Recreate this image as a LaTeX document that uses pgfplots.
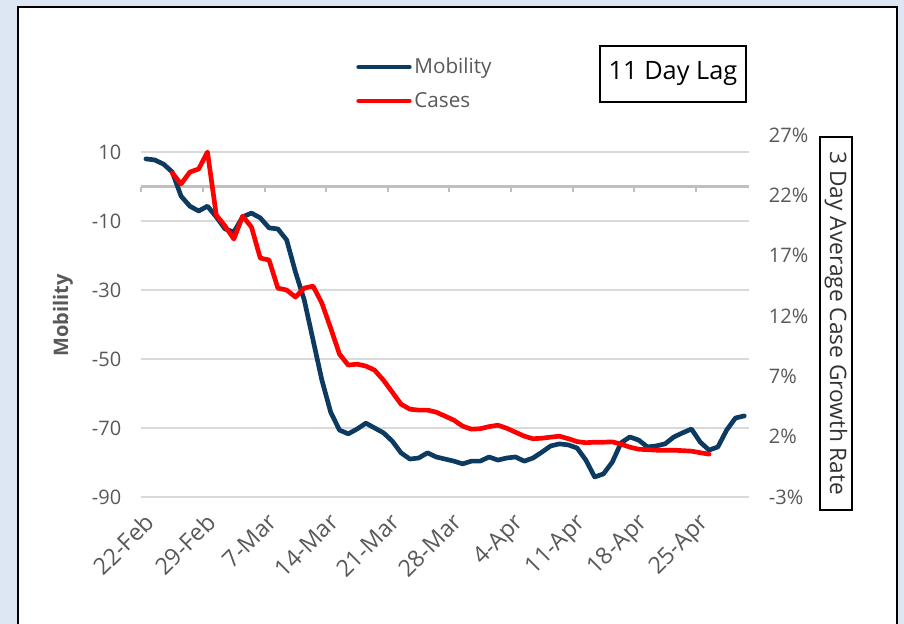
\documentclass[border=0pt]{standalone}
\usepackage{pgfplots}
\usepackage{pgfplotstable}
\pgfplotsset{compat=1.18}
\usepackage{fontspec}
\setmainfont{Open Sans}
\definecolor{mobblue}{RGB}{12,58,96}
\definecolor{casered}{RGB}{255,0,0}
\definecolor{txtgray}{RGB}{89,89,89}
\definecolor{gridgray}{RGB}{217,217,217}
\definecolor{zerogray}{RGB}{191,191,191}
\definecolor{bgblue}{RGB}{221,231,243}

\pgfplotstableread{
day mob
0 8.0
1 7.7
2 6.5
3 4.2
4 -2.8
5 -5.7
6 -7.1
7 -5.7
8 -8.8
9 -12.3
10 -13.2
11 -8.8
12 -7.7
13 -9.1
14 -12.0
15 -12.3
16 -15.5
17 -24.8
18 -32.9
19 -44.5
20 -56.1
21 -65.4
22 -70.6
23 -71.7
24 -70.3
25 -68.6
26 -70.0
27 -71.4
28 -73.8
29 -77.2
30 -79.0
31 -78.7
32 -77.2
33 -78.4
34 -79.0
35 -79.6
36 -80.4
37 -79.6
38 -79.6
39 -78.4
40 -79.3
41 -78.7
42 -78.4
43 -79.6
44 -78.7
45 -77.0
46 -75.2
47 -74.6
48 -74.9
49 -75.8
50 -79.3
51 -84.2
52 -83.3
53 -79.9
54 -74.3
55 -72.6
56 -73.5
57 -75.5
58 -75.2
59 -74.6
60 -72.6
61 -71.4
62 -70.3
63 -74.1
64 -76.4
65 -75.5
66 -70.6
67 -67.1
68 -66.5
}\mobtable

\pgfplotstableread{
day cases
3 23.85
4 22.94
5 23.93
6 24.18
7 25.59
8 20.37
9 19.45
10 18.38
11 20.28
12 19.37
13 16.80
14 16.64
15 14.31
16 14.15
17 13.57
18 14.31
19 14.48
20 13.07
21 11.00
22 8.84
23 7.93
24 8.01
25 7.85
26 7.51
27 6.68
28 5.69
29 4.69
30 4.28
31 4.20
32 4.20
33 4.03
34 3.70
35 3.37
36 2.87
37 2.62
38 2.66
39 2.83
40 2.95
41 2.70
42 2.37
43 2.04
44 1.83
45 1.87
46 1.96
47 2.04
48 1.83
49 1.59
50 1.50
51 1.54
52 1.54
53 1.57
54 1.38
55 1.13
56 0.96
57 0.92
58 0.88
59 0.88
60 0.88
61 0.84
62 0.80
63 0.67
64 0.55
}\casetable

\begin{document}
\begin{tikzpicture}[x=1pt,y=1pt]
\useasboundingbox (0,0) rectangle (678,468);
\fill[bgblue] (0,0) rectangle (678,468);
\draw[black, line width=1.2pt, fill=white] (13.5,-10) rectangle (672.75,462.75);

\pgfplotsset{
  common/.style={
    at={(106.1pt,95.25pt)}, anchor=south west,
    scale only axis, width=455.4pt, height=271.5pt,
    xmin=-0.5, xmax=68.5,
    axis line style={draw=none},
    major tick length=0pt,
    clip=false,
    /pgf/number format/assume math mode=true,
  }
}

\begin{axis}[common,
  ymin=-90, ymax=14.93,
  ytick={-90,-70,-50,-30,-10,10},
  ymajorgrids, grid style={gridgray, line width=1.1pt},
  xtick={0,7,14,21,28,35,42,49,56,63},
  xticklabels={22-Feb,29-Feb,7-Mar,14-Mar,21-Mar,28-Mar,4-Apr,11-Apr,18-Apr,25-Apr},
  xticklabel style={yshift=-11pt, xshift=-2pt, rotate=45, anchor=north east, inner sep=0pt, font=\fontsize{17.5}{19}\selectfont, text=txtgray},
  yticklabel style={anchor=east, inner sep=0pt, xshift=-15pt, font=\fontsize{15}{17}\selectfont, text=txtgray},
]
\draw[zerogray, line width=2.2pt] (axis cs:-0.5,0) -- (axis cs:68.5,0);
\pgfplotsinvokeforeach{0,...,9}{
  \draw[zerogray, line width=1.5pt] (axis cs:{-0.5+7*#1},0) -- ++(0pt,-4pt);
}
\addplot[mobblue, line width=3.5pt, line join=round, line cap=round] table[x=day,y=mob]{\mobtable};
\end{axis}

\begin{axis}[common,
  ymin=-3, ymax=27,
  axis y line*=right, axis x line=none,
  ytick={-3,2,7,12,17,22,27},
  yticklabel={\pgfmathprintnumber{\tick}\%},
  yticklabel style={anchor=west, inner sep=0pt, xshift=15pt, font=\fontsize{15}{17}\selectfont, text=txtgray},
  legend style={draw=none, fill=none, at={(0.3535,1.22)}, anchor=north west,
    font=\fontsize{15.5}{17}\selectfont, text=txtgray, row sep=8.3pt, inner sep=0pt},
  legend cell align=left,
  legend image code/.code={\draw[#1] (0pt,0pt) -- (38pt,0pt);},
]
\addlegendimage{mobblue, line width=3.5pt, line cap=round}
\addlegendentry{Mobility}
\addplot[casered, line width=3.5pt, line join=round, line cap=round] table[x=day,y=cases]{\casetable};
\addlegendentry{Cases}
\end{axis}

\node[rotate=90, font=\bfseries\fontsize{15}{17}\selectfont, text=txtgray] at (47.25,231.5) {Mobility};
\node[draw=black, line width=1.1pt, rotate=-90, minimum width=279.75pt, minimum height=24pt, inner sep=0pt,
  font=\fontsize{17}{19}\selectfont, text=black!80] at (627,225.4) {3 Day Average Case Growth Rate};
\node[draw=black, line width=1.1pt, minimum width=109.5pt, minimum height=42pt, inner sep=0pt,
  font=\fontsize{19}{22}\selectfont] at (504.75,412.5) {11 Day Lag};
\end{tikzpicture}
\end{document}
